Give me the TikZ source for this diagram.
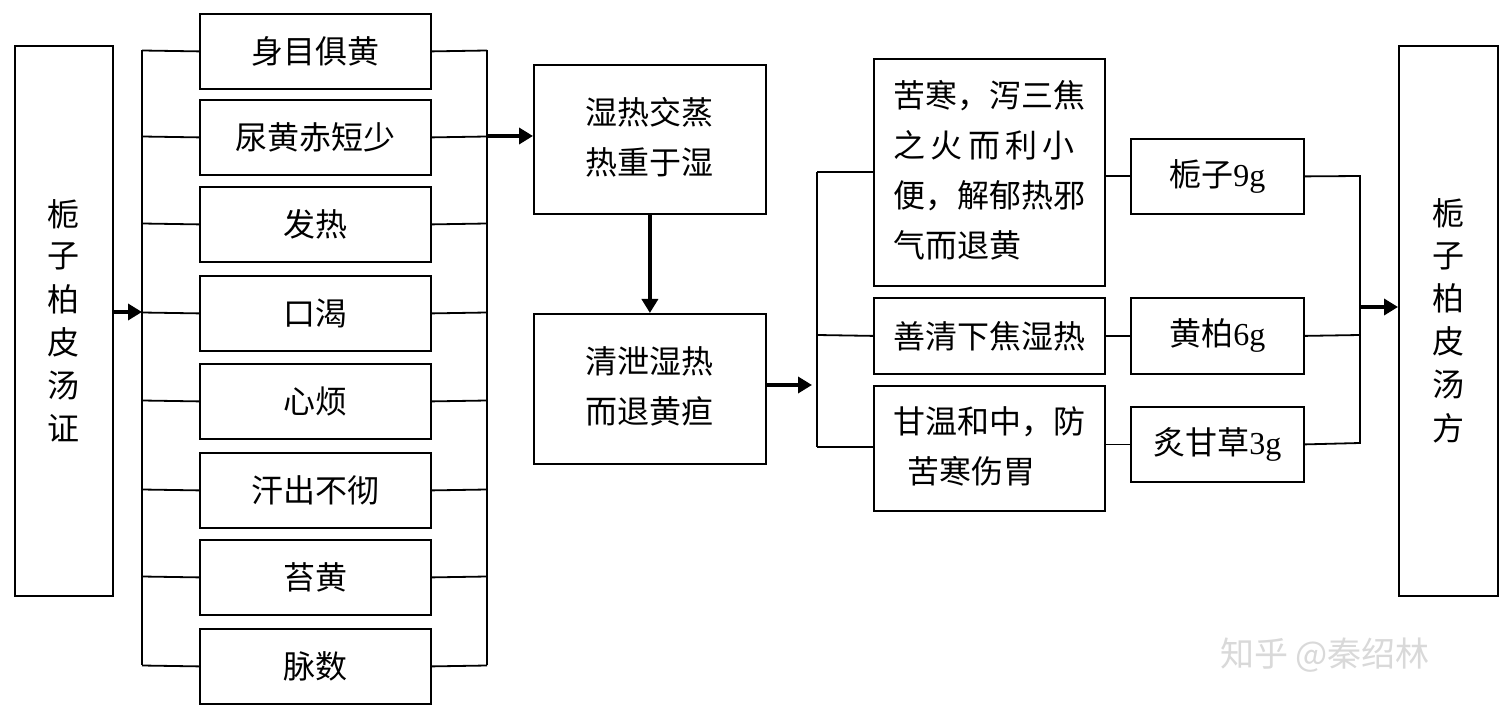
\documentclass[tikz,border=0pt]{standalone}
\usepackage{fontspec}
\setmainfont{Liberation Serif}
\newfontfamily\cjk{Noto Sans CJK SC}
\usetikzlibrary{arrows.meta}
\begin{document}
\begin{tikzpicture}[x=0.5pt,y=-0.5pt,
  bx/.style={draw,line width=0.9pt,inner sep=0pt,font=\fontsize{16}{25}\selectfont\cjk},
  ln/.style={line width=0.9pt},
  ar/.style={line width=2pt,-{Triangle[length=7pt,width=8pt]}}]
\useasboundingbox[fill=white] (0,0) rectangle (1507,715);
\newcommand{\bxat}[6]{\node[bx,minimum width=#4*0.5pt-#2*0.5pt,minimum height=#5*0.5pt-#3*0.5pt,anchor=north west] (#1) at (#2,#3) {#6};}
\bxat{L}{14}{45}{112}{595}{\shortstack{栀\\[4pt]子\\[4pt]柏\\[4pt]皮\\[4pt]汤\\[4pt]证}}
\bxat{R}{1398}{45}{1497}{595}{\shortstack{栀\\[4pt]子\\[4pt]柏\\[4pt]皮\\[4pt]汤\\[4pt]方}}
\foreach \n/\t/\y in {1/身目俱黄/13,2/尿黄赤短少/99,3/发热/186,4/口渴/275,5/心烦/363,6/汗出不彻/452,7/苔黄/539,8/脉数/628}{
  \node[bx,minimum width=115.5pt,minimum height=37.5pt,anchor=north west] (s\n) at (199,\y) {\t};
  \draw[ln] (142,\y+37.5) -- (s\n.west);
  \draw[ln] (s\n.east) -- (487,\y+37.5);
}
\draw[ln] (142,50) -- (142,665);
\draw[ln] (487,50) -- (487,665);
\coordinate (lb) at (142,312);
\coordinate (rb) at (487,136);
\draw[ar] (L.east|-lb) -- (lb);
\bxat{A}{533}{64}{765}{213}{\begin{tabular}{c}湿热交蒸\\热重于湿\end{tabular}}
\bxat{B}{533}{313}{765}{463}{\begin{tabular}{c}清泄湿热\\而退黄疸\end{tabular}}
\draw[ar] (rb) -- (A.west|-rb);
\draw[ar] (A) -- (B);
\coordinate (mb) at (817,385);
\draw[ar] (B.east|-mb) -- (812,385);
\bxat{C1}{873}{58}{1104}{285}{\begin{tabular}{@{}l@{}}苦寒，泻三焦\\之\,火\,而\,利\,小\\便，解郁热邪\\气而退黄\end{tabular}}
\bxat{C2}{873}{297}{1104}{373}{善清下焦湿热}
\bxat{C3}{873}{385}{1104}{510}{\begin{tabular}{@{}l@{}}甘温和中，防\\\ \ 苦寒伤胃\end{tabular}}
\draw[ln] (817,172) -- (817,447);
\draw[ln] (817,172) -- (C1.west|-0,172);
\draw[ln] (817,335) -- (C2.west);
\draw[ln] (817,447) -- (C3.west|-0,447);
\bxat{D1}{1130}{138}{1303}{213}{栀子{\rmfamily 9g}}
\bxat{D2}{1130}{297}{1303}{373}{黄柏{\rmfamily 6g}}
\bxat{D3}{1130}{406}{1303}{481}{炙甘草{\rmfamily 3g}}
\draw[ln] (C1.east|-D1) -- (D1.west);
\draw[ln] (C2.east) -- (D2.west);
\draw[ln] (C3.east|-D3) -- (D3.west);
\draw[ln] (D1.east) -- (1360,176) -- (1360,443) -- (D3.east);
\draw[ln] (D2.east) -- (1360,335);
\coordinate (rr) at (1360,307);
\draw[ar] (rr) -- (R.west|-rr);
\node[font=\fontsize{17}{20}\selectfont\cjk,text=black!15] (wm) at (1325,655) {知乎 @秦绍林};
\end{tikzpicture}
\end{document}
